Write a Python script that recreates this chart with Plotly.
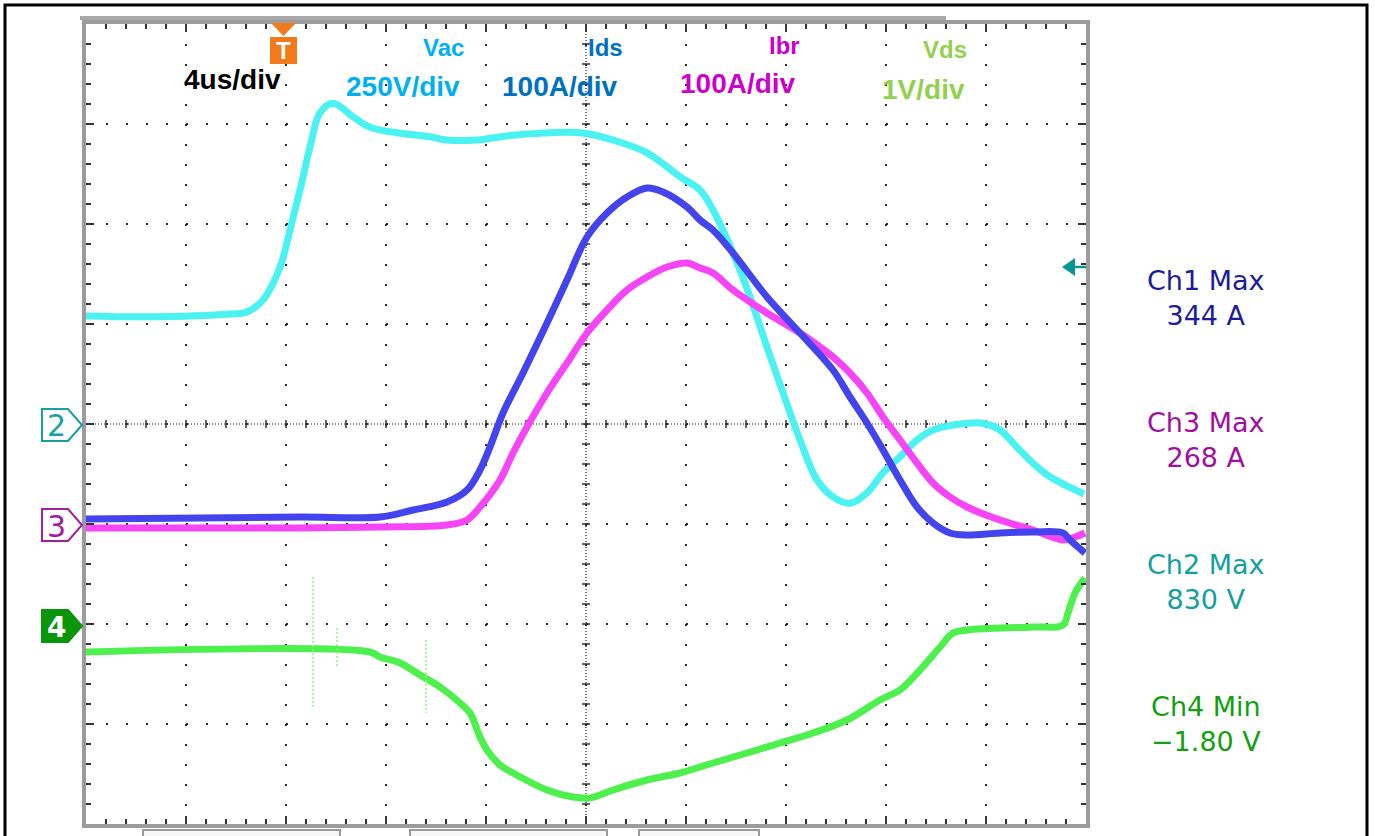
import plotly.graph_objects as go

# ---------------- data ----------------
# time in microseconds (4 us/div, trigger at t = 0)
vac_t = [-8, -5.44, -2.24, -1.56, -0.92, -0.24, 0.16, 0.56, 0.96, 1.36, 1.88, 2.68, 3.36, 4.44,
         5.76, 6.44, 7.64, 9.08, 11.76, 13.08, 14.44, 15.76, 16.56, 17.08, 17.88, 18.56, 19.24,
         19.88, 20.56, 21.24, 21.88, 22.56, 23.24, 23.88, 24.56, 25.24, 25.88, 27.24, 27.88,
         28.56, 29.24, 29.88, 30.56, 31.92]
vac_v = [270, 268, 275, 280, 310, 392, 485, 585, 692, 778, 802, 768, 742, 728,
         718, 710, 710, 722, 728, 710, 678, 618, 585, 535, 428, 318, 192,
         78, -40, -140, -182, -198, -172, -122, -82, -40, -15, 2, 2,
         -15, -58, -98, -132, -175]

ids_t = [-8, -3.44, 0.56, 3.76, 5.08, 6.44, 7.24, 7.76, 8.16, 8.68, 9.48, 10.44, 11.24, 12.04,
         12.84, 13.64, 14.44, 15.08, 16.04, 16.56, 17.08, 17.88, 19.24, 20.56, 21.88, 22.56,
         23.24, 23.88, 24.56, 25.24, 25.88, 26.56, 27.24, 28.56, 29.88, 31.08, 31.36, 31.96]
ids_a = [5, 6, 7, 7, 14, 22, 34, 54, 77, 111, 151, 201, 244, 287,
         311, 327, 336, 332, 317, 304, 294, 271, 227, 191, 154, 127,
         101, 74, 44, 17, 1, -9, -11, -9, -8, -9, -16, -29]

ibr_t = [-8, 0.56, 3.76, 6.44, 7.24, 7.76, 8.56, 9.08, 9.64, 10.44, 11.24, 12.04, 12.84, 13.64,
         14.44, 15.24, 16.04, 16.56, 17.08, 17.88, 19.24, 20.56, 21.88, 22.56, 23.24, 23.88,
         24.56, 25.24, 25.88, 26.56, 27.24, 28.56, 29.88, 31.08, 31.56, 31.96]
ibr_a = [-4, -4, -3, -1, 4, 17, 44, 71, 97, 131, 161, 191, 214, 234,
         247, 257, 261, 256, 251, 234, 211, 191, 167, 151, 131, 107,
         84, 61, 41, 27, 17, 4, -6, -16, -13, -9]

vds_t = [-8, 3.36, 3.76, 4.56, 5.36, 6.16, 6.96, 7.36, 7.76, 8.04, 8.56, 9.08, 10.44, 11.48,
         12.16, 13.08, 14.44, 15.76, 17.08, 18.44, 19.76, 21.08, 22.44, 23.76, 24.56, 25.36,
         26.16, 26.68, 27.24, 28.56, 29.88, 31.08, 31.28, 31.56, 31.96]
vds_v = [-0.28, -0.28, -0.33, -0.39, -0.51, -0.63, -0.79, -0.89, -1.13, -1.26, -1.41, -1.49,
         -1.66, -1.73, -1.74, -1.66, -1.56, -1.49, -1.39, -1.29, -1.19, -1.09, -0.96, -0.76,
         -0.66, -0.46, -0.23, -0.09, -0.06, -0.04, -0.03, -0.01, 0.11, 0.31, 0.46]

# short switching glitches visible on the Vds trace
vds_glitch_t = [1.08, 1.08, None, 2.04, 2.04, None, 5.6, 5.6]
vds_glitch_v = [0.47, -0.83, None, -0.04, -0.44, None, -0.16, -0.89]

# scope settings (per-division scales and ground offsets in divisions)
time_range = [-8, 32]          # 4 us/div, 10 div
vac_range = [-1000, 1000]      # 250 V/div, ground at centre
cur_range = [-300, 500]        # 100 A/div, ground 1 div below centre
vds_range = [-2, 6]            # 1 V/div, ground 2 div below centre

meas_labels = [("Ch1 Max", "344 A", "#1c1c9c"),
               ("Ch3 Max", "268 A", "#a010a0"),
               ("Ch2 Max", "830 V", "#12a0a0"),
               ("Ch4 Min", "\u22121.80 V", "#12a012")]

# ---------------- layout geometry (pixels) ----------------
W, H = 1375, 836
L, R, T, B = 86, 1086, 24, 824


def fx(p):
    return (p - L) / (R - L)


def fy(p):
    return (B - p) / (B - T)


fig = go.Figure()

line_w = 7
smooth = 1.0
fig.add_trace(go.Scatter(x=ibr_t, y=ibr_a, yaxis="y2", mode="lines", name="Ibr",
                         line=dict(color="#f645f6", width=line_w, shape="spline", smoothing=smooth)))
fig.add_trace(go.Scatter(x=ids_t, y=ids_a, yaxis="y2", mode="lines", name="Ids",
                         line=dict(color="#4444ee", width=line_w, shape="spline", smoothing=smooth)))
fig.add_trace(go.Scatter(x=vac_t, y=vac_v, yaxis="y", mode="lines", name="Vac",
                         line=dict(color="#4af2f2", width=line_w, shape="spline", smoothing=smooth)))
fig.add_trace(go.Scatter(x=vds_t, y=vds_v, yaxis="y3", mode="lines", name="Vds",
                         line=dict(color="#4ef04e", width=line_w, shape="spline", smoothing=smooth)))
fig.add_trace(go.Scatter(x=vds_glitch_t, y=vds_glitch_v, yaxis="y3", mode="lines",
                         name="Vds glitch", connectgaps=False,
                         line=dict(color="#8ef58e", width=1.5, dash="2px,2px")))

grid_common = dict(showgrid=True, gridcolor="#2a2a2a", gridwidth=2, griddash="2px,18px",
                   showticklabels=False, ticks="inside", ticklen=8, tickcolor="#333",
                   tickwidth=1.5, showline=True, linecolor="#9c9c9c", linewidth=4,
                   mirror="ticks", zeroline=False, fixedrange=True)

fig.update_layout(
    width=W, height=H,
    margin=dict(l=L, r=W - R, t=T, b=H - B, pad=0),
    paper_bgcolor="white", plot_bgcolor="white",
    showlegend=False,
    xaxis=dict(range=time_range, dtick=4, tick0=0,
               minor=dict(dtick=0.8, tick0=0, ticks="inside", ticklen=5, tickcolor="#333",
                          tickwidth=1.5, showgrid=False),
               **grid_common),
    yaxis=dict(range=vac_range, dtick=250, tick0=0,
               minor=dict(dtick=50, tick0=0, ticks="inside", ticklen=5, tickcolor="#333",
                          tickwidth=1.5, showgrid=False),
               **grid_common),
    yaxis2=dict(range=cur_range, overlaying="y", visible=False, fixedrange=True),
    yaxis3=dict(range=vds_range, overlaying="y", visible=False, fixedrange=True),
)

shapes = []
# centre cross-hair (dense dotted) with small ticks every 0.2 div
shapes.append(dict(type="line", xref="paper", yref="paper", x0=0.5, x1=0.5, y0=0, y1=1,
                   line=dict(color="#222", width=1.2, dash="1px,2px"), layer="below"))
shapes.append(dict(type="line", xref="paper", yref="paper", x0=0, x1=1, y0=0.5, y1=0.5,
                   line=dict(color="#222", width=1.2, dash="1px,2px"), layer="below"))
for i in range(1, 50):
    xp = i / 50
    shapes.append(dict(type="line", xref="paper", yref="paper", x0=xp, x1=xp,
                       y0=fy(424 + 4), y1=fy(424 - 4), line=dict(color="#333", width=1.5),
                       layer="below"))
for i in range(1, 40):
    yp = i / 40
    shapes.append(dict(type="line", xref="paper", yref="paper", x0=fx(586 - 4), x1=fx(586 + 4),
                       y0=yp, y1=yp, line=dict(color="#333", width=1.5), layer="below"))

# outer black frame
shapes.append(dict(type="rect", xref="paper", yref="paper", x0=fx(5), x1=fx(1367),
                   y0=fy(842), y1=fy(5), line=dict(color="black", width=3)))
# gray record bar on top
shapes.append(dict(type="rect", xref="paper", yref="paper", x0=fx(80), x1=fx(946),
                   y0=fy(20), y1=fy(16), line=dict(width=0), fillcolor="#a8a8a8"))
# bottom tabs
for x0, x1 in [(143, 340), (410, 607), (639, 759)]:
    shapes.append(dict(type="rect", xref="paper", yref="paper", x0=fx(x0), x1=fx(x1),
                       y0=fy(842), y1=fy(830), line=dict(color="#9a9a9a", width=2),
                       fillcolor="#f6f6f6"))


def pent(cy, x0=42, x1=68, x2=82, h=16):
    return (f"M{fx(x0)},{fy(cy - h)} L{fx(x1)},{fy(cy - h)} L{fx(x2)},{fy(cy)} "
            f"L{fx(x1)},{fy(cy + h)} L{fx(x0)},{fy(cy + h)} Z")


# channel ground markers
shapes.append(dict(type="path", xref="paper", yref="paper", path=pent(425),
                   line=dict(color="#18a0a0", width=2), fillcolor="white"))
shapes.append(dict(type="path", xref="paper", yref="paper", path=pent(525),
                   line=dict(color="#a020a0", width=2), fillcolor="white"))
shapes.append(dict(type="path", xref="paper", yref="paper", path=pent(626),
                   line=dict(color="#0a960a", width=2), fillcolor="#0a960a"))

# trigger marker
shapes.append(dict(type="path", xref="paper", yref="paper",
                   path=f"M{fx(271)},{fy(23)} L{fx(296)},{fy(23)} L{fx(283.5)},{fy(36)} Z",
                   line=dict(width=0), fillcolor="#f27a1a"))
shapes.append(dict(type="rect", xref="paper", yref="paper", x0=fx(270), x1=fx(297),
                   y0=fy(64), y1=fy(37), line=dict(width=0), fillcolor="#f27a1a"))
# trigger level arrow on the right
shapes.append(dict(type="path", xref="paper", yref="paper",
                   path=f"M{fx(1062)},{fy(267)} L{fx(1075)},{fy(258)} L{fx(1075)},{fy(276)} Z",
                   line=dict(width=0), fillcolor="#0a9494"))
shapes.append(dict(type="line", xref="paper", yref="paper", x0=fx(1074), x1=fx(1086),
                   y0=fy(267), y1=fy(267), line=dict(color="#0a9494", width=2.5)))

fig.update_layout(shapes=shapes)

ann = []


def text(px, py, s, color, size, family="Liberation Sans", weight="bold"):
    ann.append(dict(x=fx(px), y=fy(py), xref="paper", yref="paper", text=s, showarrow=False,
                    xanchor="center", yanchor="middle", align="center",
                    font=dict(family=family, size=size, color=color, weight=weight)))


text(232, 80, "4us/div", "black", 28)
text(443, 47, "Vac", "#00b0f0", 24)
text(403, 86, "250V/div", "#00b0f0", 28)
text(605, 47, "Ids", "#0070c0", 24)
text(560, 86, "100A/div", "#0070c0", 28)
text(784, 45, "Ibr", "#cc00cc", 24)
text(738, 84, "100A/div", "#cc00cc", 28)
text(945, 50, "Vds", "#92d050", 24)
text(923, 89, "1V/div", "#92d050", 28)

text(283.5, 51, "T", "white", 24)
text(56, 426, "2", "#18a0a0", 30, family="DejaVu Sans", weight="normal")
text(56, 526, "3", "#a020a0", 30, family="DejaVu Sans", weight="normal")
text(56, 627, "4", "white", 28, family="DejaVu Sans", weight="bold")

# measurement readouts: two lines per channel in one text block
meas_y = [298, 440, 582, 724]
for (title, value, col), yc in zip(meas_labels, meas_y):
    text(1206, yc, f"{title}<br>{value}", col, 27, family="DejaVu Sans", weight="normal")

fig.update_layout(annotations=ann)

fig.write_html("out.html", config={"displayModeBar": False, "staticPlot": True},
               post_script="document.body.style.margin='0';document.body.style.overflow='hidden';")
